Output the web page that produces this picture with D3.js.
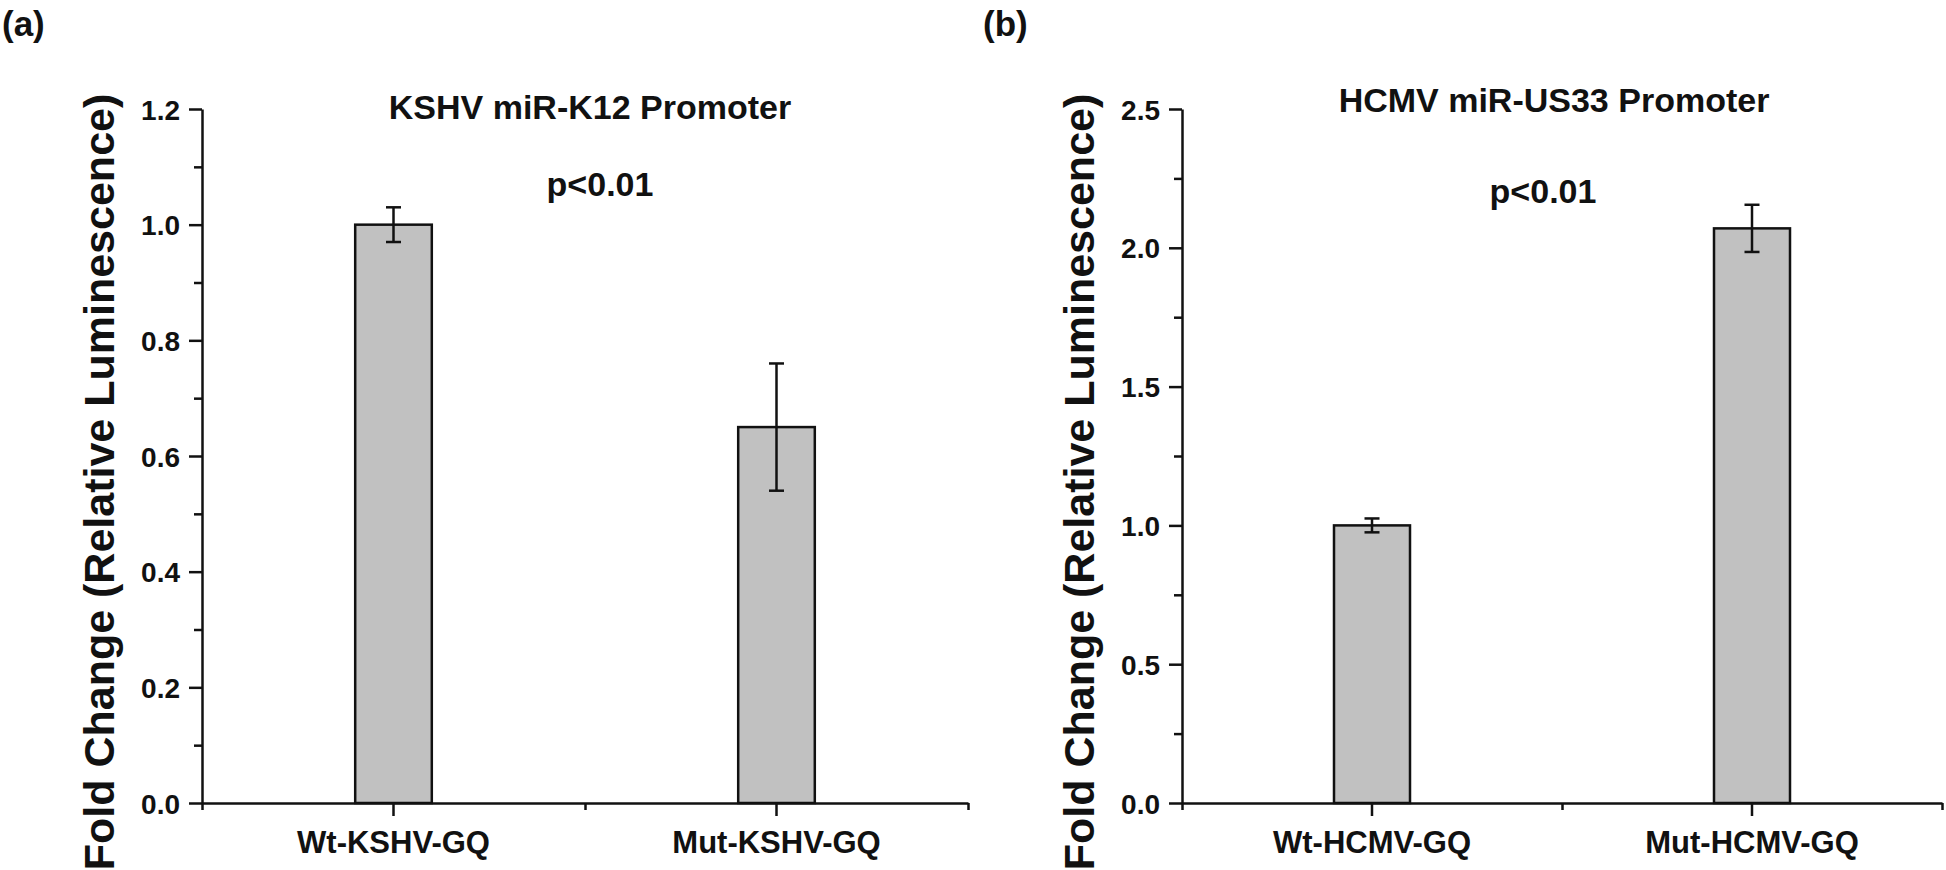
<!DOCTYPE html>
<html>
<head>
<meta charset="utf-8">
<script src="https://cdn.jsdelivr.net/npm/d3@7"></script>
<style>
  body { margin: 0; background: #fff; }
  svg text { font-family: "Liberation Sans", Arial, Helvetica, sans-serif; font-weight: bold; fill: #111; }
</style>
</head>
<body>
<svg id="chart" width="1946" height="870"></svg>
<script>
// values
var panelNames = ["(a)", "(b)"];
var panelTitles = ["KSHV miR-K12 Promoter", "HCMV miR-US33 Promoter"];
var pValues = ["p<0.01", "p<0.01"];

var kshvCategories = ["Wt-KSHV-GQ", "Mut-KSHV-GQ"];
var kshvValues = [1.0, 0.65];
var kshvErrors = [0.03, 0.11];
var kshvTicks = [0, 0.2, 0.4, 0.6, 0.8, 1.0, 1.2];
var kshvMinorTicks = [0.1, 0.3, 0.5, 0.7, 0.9, 1.1];

var hcmvCategories = ["Wt-HCMV-GQ", "Mut-HCMV-GQ"];
var hcmvValues = [1.0, 2.07];
var hcmvErrors = [0.025, 0.085];
var hcmvTicks = [0, 0.5, 1.0, 1.5, 2.0, 2.5];
var hcmvMinorTicks = [0.25, 0.75, 1.25, 1.75, 2.25];

var yLabel = "Fold Change (Relative Luminescence)";

var svg = d3.select("#chart");
var plotTop = 109, plotBottom = 803;

var renderPanel = function(opt){
	var g = svg.append("g");
	var y = d3.scaleLinear().domain([0, opt.ticks[opt.ticks.length-1]]).range([plotBottom, plotTop]);
	var x = d3.scaleBand().domain(opt.categories).range([opt.left, opt.right])
				.paddingInner(0.8).paddingOuter(0.4);
	var data = opt.categories.map(function(c,i){ return {key:c, value:opt.values[i], err:opt.errors[i]}; });

	// bars
	g.selectAll("rect.bar")
		.data(data)
		.enter()
		.append("rect")
		.attr("class","bar")
		.attr("x",function(d){ return x(d.key); })
		.attr("y",function(d){ return y(d.value); })
		.attr("width",x.bandwidth())
		.attr("height",function(d){ return y(0)-y(d.value); })
		.style("fill","#c1c1c1")
		.style("stroke","#111")
		.style("stroke-width","2.5px");

	// error bars
	g.selectAll("g.err")
		.data(data)
		.enter()
		.append("g")
		.attr("class","err")
		.each(function(d){
			var cx = x(d.key)+x.bandwidth()/2, sel = d3.select(this);
			sel.append("line").attr("x1",cx).attr("x2",cx).attr("y1",y(d.value+d.err)).attr("y2",y(d.value-d.err));
			sel.append("line").attr("x1",cx-7.5).attr("x2",cx+7.5).attr("y1",y(d.value+d.err)).attr("y2",y(d.value+d.err));
			sel.append("line").attr("x1",cx-7.5).attr("x2",cx+7.5).attr("y1",y(d.value-d.err)).attr("y2",y(d.value-d.err));
		})
		.selectAll("line")
		.style("stroke","#111")
		.style("stroke-width","2.5px");

	// y axis, major and minor ticks
	var yAxis = g.append("g")
		.attr("transform","translate("+opt.left+",0)")
		.call(d3.axisLeft(y).tickValues(opt.ticks).tickSize(13).tickSizeOuter(0).tickPadding(9)
				.tickFormat(d3.format(".1f")));
	g.append("g")
		.attr("transform","translate("+opt.left+",0)")
		.call(d3.axisLeft(y).tickValues(opt.minor).tickSize(8).tickSizeOuter(0).tickFormat(""))
		.select(".domain").remove();
	yAxis.selectAll("text").style("font-size","28px").attr("dy","0.36em");

	// x axis: long ticks at categories, short ticks at band edges
	var edges = d3.scaleLinear().domain([0, opt.categories.length]).range([opt.left, opt.right]);
	var xAxis = g.append("g")
		.attr("transform","translate(0,"+plotBottom+")")
		.call(d3.axisBottom(x).tickSize(13).tickSizeOuter(0).tickPadding(15));
	g.append("g")
		.attr("transform","translate(0,"+plotBottom+")")
		.call(d3.axisBottom(edges).tickValues(d3.range(opt.categories.length+1)).tickSize(7).tickFormat(""))
		.select(".domain").remove();
	xAxis.selectAll("text").style("font-size","31px");

	g.selectAll(".domain, .tick line").style("stroke","#111").style("stroke-width","2.5px");

	// texts
	g.append("text")
		.attr("x",opt.nameX).attr("y",36)
		.style("font-size","35px")
		.text(opt.name);
	g.append("text")
		.attr("x",opt.titleX).attr("y",opt.titleY)
		.attr("text-anchor","middle")
		.style("font-size","34px")
		.text(opt.title);
	g.append("text")
		.attr("x",opt.pX).attr("y",opt.pY)
		.attr("text-anchor","middle")
		.style("font-size","34px")
		.text(opt.p);
	g.append("text")
		.attr("transform","translate("+(opt.left-88)+",482) rotate(-90)")
		.attr("text-anchor","middle")
		.style("font-size","43px")
		.text(yLabel);
}

renderPanel({
	name:panelNames[0], title:panelTitles[0], p:pValues[0],
	categories:kshvCategories, values:kshvValues, errors:kshvErrors,
	ticks:kshvTicks, minor:kshvMinorTicks,
	left:202, right:968, nameX:2, titleX:590, titleY:119, pX:600, pY:196
});
renderPanel({
	name:panelNames[1], title:panelTitles[1], p:pValues[1],
	categories:hcmvCategories, values:hcmvValues, errors:hcmvErrors,
	ticks:hcmvTicks, minor:hcmvMinorTicks,
	left:1182, right:1942, nameX:983, titleX:1554, titleY:112, pX:1543, pY:203
});
</script>
</body>
</html>
